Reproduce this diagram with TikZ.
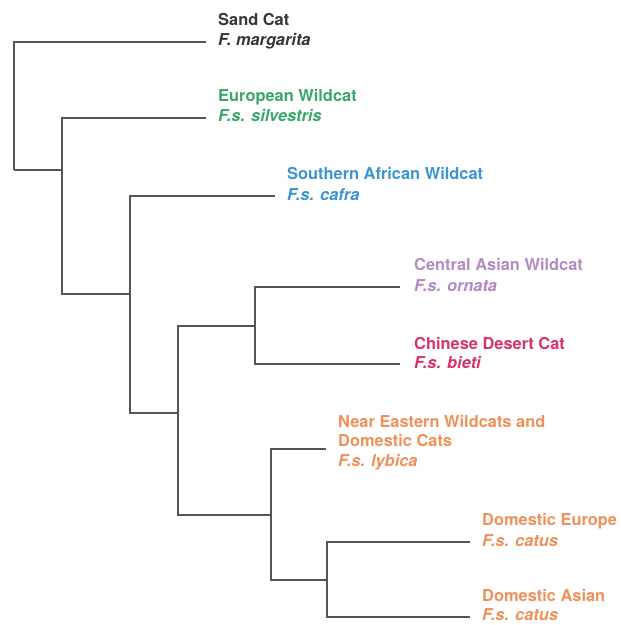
\documentclass[tikz,border=0pt]{standalone}
\usepackage{fontspec}
\setmainfont{TeX Gyre Heros}
\usepackage{xcolor}
\usetikzlibrary{
    positioning     % For relative node placement (right=of, above=of)
}
\definecolor{branchgray}{RGB}{85, 85, 85}
\definecolor{sandgray}{RGB}{55, 55, 55}
\definecolor{eurogreen}{RGB}{58, 166, 106}
\definecolor{cafrablue}{RGB}{59, 149, 211}
\definecolor{ornatapurple}{RGB}{180, 138, 196}
\definecolor{bietipink}{RGB}{214, 51, 108}
\definecolor{lybicaorange}{RGB}{240, 144, 90}

\begin{document}
\begin{tikzpicture}[
    x=1pt, y=-1pt, % Pixel-like units, y grows downwards
    % Styles
    branch/.style={ % Style for the tree branches
        draw=branchgray,
        line width=2pt
    },
    common_name/.style={ % Style for the common name line
        inner sep=0pt,
        text height=11.8pt,
        text depth=3.5pt,
        font=\fontsize{16.4}{20}\selectfont\bfseries
    },
    latin_name/.style={ % Style for the scientific name line
        common_name,
        font=\fontsize{16.4}{20}\selectfont\bfseries\itshape
    }
]
\useasboundingbox (0,0) rectangle (621,625);

% --- Internal nodes of the tree ---
\coordinate (n0) at (14,170);
\coordinate (n1) at (61.7,170);
\coordinate (n2) at (130,294);
\coordinate (n3) at (178,413);
\coordinate (n4) at (255,326);
\coordinate (n5) at (271,515);
\coordinate (n6) at (327,580);

% --- Leaf tips ---
\coordinate (tSand) at (206,41.7);
\coordinate (tEuro) at (206,117.7);
\coordinate (tCafra) at (275,196);
\coordinate (tOrnata) at (400,287);
\coordinate (tBieti) at (400,364);
\coordinate (tLybica) at (326,449);
\coordinate (tDomEu) at (470,542);
\coordinate (tDomAs) at (470,617);

% --- Branches ---
\foreach \a/\b in {n0/tSand, n0/n1, n1/tEuro, n1/n2, n2/tCafra, n2/n3,
    n3/n4, n4/tOrnata, n4/tBieti, n3/n5, n5/tLybica, n5/n6,
    n6/tDomEu, n6/tDomAs}
    \draw[branch] (\a) |- (\b);

% --- Labels ---
\node[latin_name, text=sandgray, right=12pt of tSand] (sandLat) {F. margarita};
\node[common_name, text=sandgray, above=4.5pt of sandLat.north west, anchor=south west] (sandCom) {Sand Cat};

\node[latin_name, text=eurogreen, right=12pt of tEuro] (euroLat) {F.s. silvestris};
\node[common_name, text=eurogreen, above=4.5pt of euroLat.north west, anchor=south west] (euroCom) {European Wildcat};

\node[latin_name, text=cafrablue, right=12pt of tCafra] (cafraLat) {F.s. cafra};
\node[common_name, text=cafrablue, above=4.5pt of cafraLat.north west, anchor=south west] (cafraCom) {Southern African Wildcat};

\node[latin_name, text=ornatapurple, right=14pt of tOrnata] (ornataLat) {F.s. ornata};
\node[common_name, text=ornatapurple, above=4.5pt of ornataLat.north west, anchor=south west] (ornataCom) {Central Asian Wildcat};

\node[latin_name, text=bietipink, right=14pt of tBieti] (bietiLat) {F.s. bieti};
\node[common_name, text=bietipink, above=3pt of bietiLat.north west, anchor=south west] (bietiCom) {Chinese Desert Cat};

\node[latin_name, text=lybicaorange, right=12pt of tLybica, yshift=-13pt] (lybicaLat) {F.s. lybica};
\node[common_name, text=lybicaorange, above=3.5pt of lybicaLat.north west, anchor=south west] (lybicaCom2) {Domestic Cats};
\node[common_name, text=lybicaorange, above=3.5pt of lybicaCom2.north west, anchor=south west] (lybicaCom1) {Near Eastern Wildcats and};

\node[latin_name, text=lybicaorange, right=12pt of tDomEu] (domEuLat) {F.s. catus};
\node[common_name, text=lybicaorange, above=4.5pt of domEuLat.north west, anchor=south west] (domEuCom) {Domestic Europe};

\node[latin_name, text=lybicaorange, right=12pt of tDomAs, yshift=1pt] (domAsLat) {F.s. catus};
\node[common_name, text=lybicaorange, above=3pt of domAsLat.north west, anchor=south west] (domAsCom) {Domestic Asian};

\end{tikzpicture}
\end{document}
